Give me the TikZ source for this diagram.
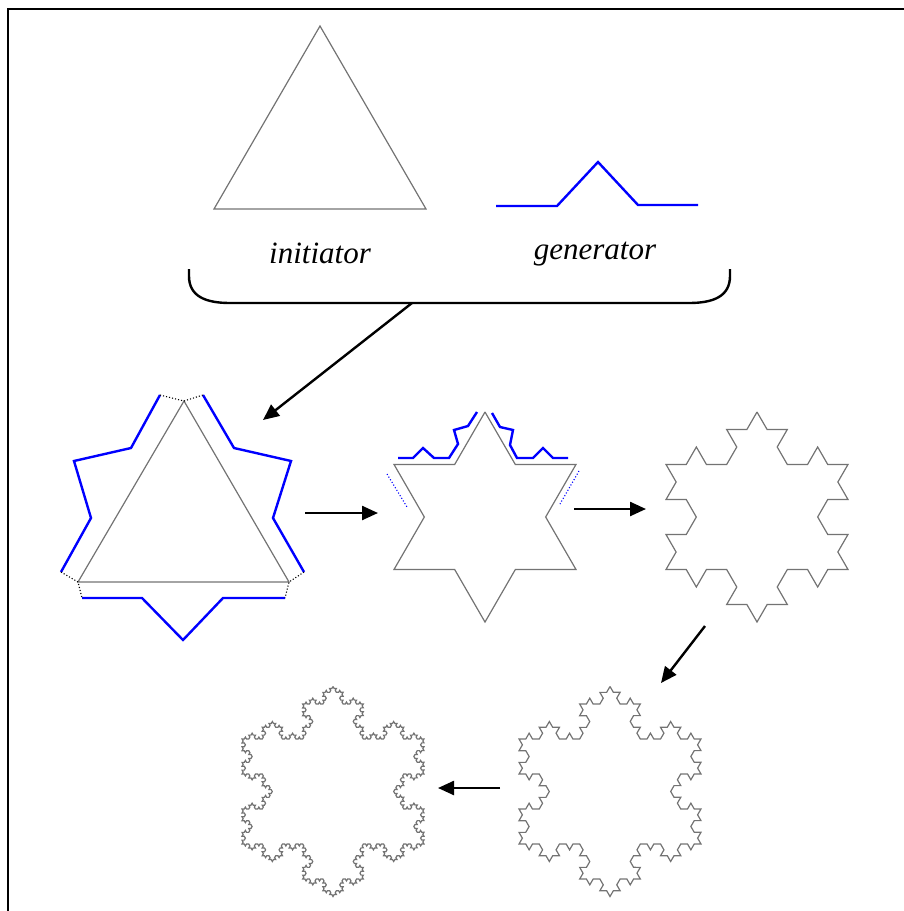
\documentclass[tikz,border=0pt]{standalone}
\usepackage{fontspec}
\setmainfont{Liberation Serif}
\usetikzlibrary{arrows.meta,decorations.fractals}

\begin{document}
\begin{tikzpicture}[x=1pt,y=-1pt,
  curve/.style={draw=black!55,line width=1.2pt,line join=miter},
  genline/.style={draw=blue,line width=2.4pt,line join=miter},
  link/.style={draw,dotted,line width=1.1pt},
  flow/.style={draw,line width=2.4pt,-{Triangle[length=16pt,width=14pt]}},
  nametext/.style={font=\fontsize{31}{32}\selectfont\itshape,anchor=base,inner sep=0pt},
  decoration=Koch snowflake]
\useasboundingbox (0,0) rectangle (904,911);
\draw[line width=1.8pt] (8,911) -- (8,9) -- (904,9);

\draw[curve] (320,26) -- (426,209) -- (214,209) -- cycle;
\draw[genline] (496,206) -- (557,206) -- (598,162) -- (638,205) -- (698,205);
\node[nametext] (init) at (320,263) {initiator};
\node[nametext] (gen) at (595,259) {generator};

\draw[line width=2.4pt] (189,269) -- (189,276) .. controls (189,296) and (205,303) .. (230,303)
  -- (689,303) .. controls (714,303) and (730,296) .. (730,276) -- (730,269);

\coordinate (brace-tip) at (412,303);
\coordinate (stage1-in) at (263,420);
\coordinate (stage1-out) at (305,513);
\coordinate (stage2-in) at (378,513);
\coordinate (stage2-out) at (574,509);
\coordinate (stage3-in) at (646,509);
\coordinate (stage3-out) at (705,626);
\coordinate (stage4-in) at (661,683);
\coordinate (stage4-out) at (500,788);
\coordinate (stage5-in) at (438,788);

% first step
\draw[curve] (184,401) -- (289,582) -- (78,582) -- cycle;
\draw[genline] (82,598) -- (142,598) -- (183,640) -- (223,598) -- (285,598);
\draw[genline] (61,572) -- (91,518) -- (74,461) -- (131,448) -- (160,395);
\draw[genline] (203,395) -- (234,448) -- (291,461) -- (273,518) -- (304,572);
\draw[link] (160,395) -- (184,401) -- (203,395);
\draw[link] (61,572) -- (78,582) -- (82,598);
\draw[link] (304,572) -- (289,582) -- (285,598);

% second step
\draw[curve] decorate{ (485,412) -- (576,569.5) -- (394,569.5) -- cycle };
\draw[genline] (398,458) -- (413,458) -- (423,448) -- (434,458) -- (449,458)
  -- (458,444) -- (454,430) -- (468,426) -- (477,412);
\draw[genline] (492,413) -- (500,427) -- (513,430) -- (510,445) -- (517,458)
  -- (533,458) -- (543,448) -- (553,458) -- (568,458);
\draw[link,blue] (387,474) -- (407,507);
\draw[link,blue] (579,471) -- (560,504);

% later steps
\draw[curve] decorate{ decorate{ (757,412) -- (848,569.5) -- (666,569.5) -- cycle }};
\draw[curve] decorate{ decorate{ decorate{ (610,686.5) -- (701,844) -- (519,844) -- cycle }}};
\draw[curve] decorate{ decorate{ decorate{ decorate{ (333,686.5) -- (424,844) -- (242,844) -- cycle }}}};

\draw[flow] (brace-tip) -- (stage1-in);
\draw[flow] (stage1-out) -- (stage2-in);
\draw[flow] (stage2-out) -- (stage3-in);
\draw[flow] (stage3-out) -- (stage4-in);
\draw[flow] (stage4-out) -- (stage5-in);
\end{tikzpicture}
\end{document}
